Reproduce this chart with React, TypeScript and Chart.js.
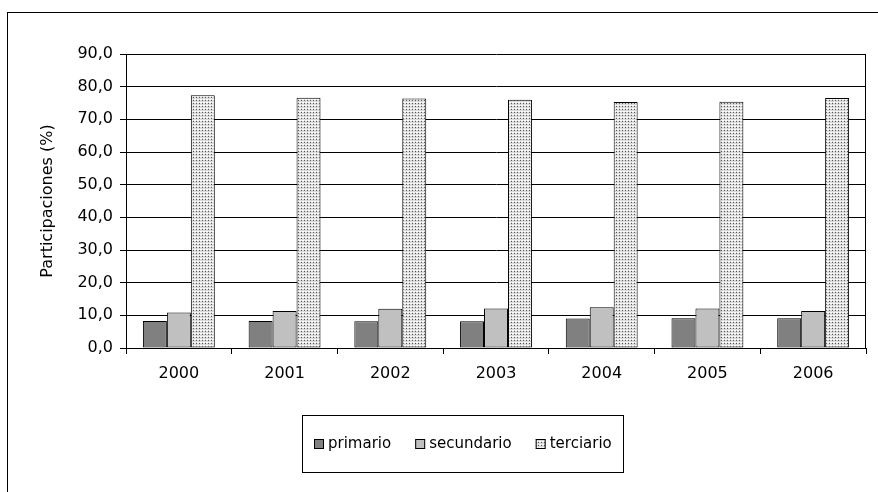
import React, { useEffect, useRef } from "react";
import { Chart, registerables } from "chart.js";

Chart.register(...registerables);

const years = ["2000", "2001", "2002", "2003", "2004", "2005", "2006"];
const primario = [8.3, 8.3, 8.2, 8.2, 9.0, 9.1, 9.1];
const secundario = [10.9, 11.3, 12.0, 12.1, 12.5, 12.1, 11.3];
const terciario = [77.4, 76.6, 76.4, 76.0, 75.3, 75.4, 76.5];
const seriesLabels = ["primario", "secundario", "terciario"];
const yTitle = "Participaciones (%)";

const FONT = "'DejaVu Sans', Verdana, sans-serif";

function makePattern(): CanvasPattern | string {
  const c = document.createElement("canvas");
  c.width = 3;
  c.height = 3;
  const g = c.getContext("2d");
  if (!g) return "#ccc";
  g.fillStyle = "#dadada";
  g.fillRect(0, 0, 3, 3);
  g.fillStyle = "#ffffff";
  g.fillRect(0, 0, 1, 1);
  g.fillRect(2, 0, 1, 1);
  g.fillStyle = "#5a5a5a";
  g.fillRect(1, 1, 1, 1);
  const p = g.createPattern(c, "repeat");
  return p || "#ccc";
}

export default function App() {
  const ref = useRef<HTMLCanvasElement | null>(null);

  useEffect(() => {
    if (!ref.current) return;
    const pattern = makePattern();
    const fills: any[] = ["#808080", "#c0c0c0", pattern];

    const framePlugin = {
      id: "frame",
      beforeDraw(chart: any) {
        const ctx = chart.ctx;
        ctx.save();
        ctx.fillStyle = "#fff";
        ctx.fillRect(0, 0, chart.width, chart.height);
        ctx.strokeStyle = "#000";
        ctx.lineWidth = 1;
        ctx.strokeRect(7.5, 12.5, 1000, 1000);
        ctx.restore();
      },
      afterDraw(chart: any) {
        const ctx = chart.ctx;
        const a = chart.chartArea;
        ctx.save();
        ctx.strokeStyle = "#000";
        ctx.lineWidth = 1;
        ctx.beginPath();
        ctx.moveTo(Math.round(a.right) - 0.5, a.top);
        ctx.lineTo(Math.round(a.right) - 0.5, a.bottom);
        ctx.stroke();

        // legend
        const boxL = 302.5, boxT = 415.5, boxW = 321, boxH = 57;
        ctx.strokeRect(boxL, boxT, boxW, boxH);
        ctx.font = `15px ${FONT}`;
        ctx.textBaseline = "middle";
        ctx.textAlign = "left";
        const marker = 10, gapText = 4, gapItem = 24;
        const datasets = chart.data.datasets;
        const widths = datasets.map((d: any) => ctx.measureText(d.label).width);
        let total = 0;
        widths.forEach((w: number, i: number) => {
          total += marker + gapText + w + (i < widths.length - 1 ? gapItem : 0);
        });
        let x = Math.round(boxL + boxW / 2 - total / 2);
        const cy = boxT + boxH / 2;
        datasets.forEach((d: any, i: number) => {
          ctx.fillStyle = d.backgroundColor;
          ctx.fillRect(x, Math.round(cy - marker / 2), marker, marker);
          ctx.strokeStyle = "#000";
          ctx.strokeRect(x + 0.5, Math.round(cy - marker / 2) + 0.5, marker - 1, marker - 1);
          ctx.fillStyle = "#000";
          ctx.fillText(d.label, x + marker + gapText, cy);
          x += marker + gapText + widths[i] + gapItem;
        });
        ctx.restore();
      },
    };

    const chart = new Chart(ref.current, {
      type: "bar",
      data: {
        labels: years,
        datasets: [primario, secundario, terciario].map((vals, i) => ({
          label: seriesLabels[i],
          data: vals,
          backgroundColor: fills[i],
          borderColor: "#000",
          borderWidth: 1,
          borderSkipped: false,
          categoryPercentage: 0.68,
          barPercentage: 1.0,
        })),
      },
      options: {
        responsive: false,
        animation: false,
        devicePixelRatio: 1,
        layout: { padding: { left: 0, right: 12, top: 54, bottom: 0 } },
        plugins: {
          legend: { display: false },
          tooltip: { enabled: false },
        },
        scales: {
          x: {
            offset: true,
            grid: {
              offset: true,
              drawOnChartArea: false,
              drawTicks: true,
              tickLength: 6,
              color: "#000",
            },
            border: { color: "#000", width: 1 },
            ticks: {
              color: "#000",
              font: { family: FONT, size: 16 },
              padding: 10,
            },
            afterFit: (s: any) => {
              s.height = 144;
            },
          },
          y: {
            min: 0,
            max: 90,
            ticks: {
              stepSize: 10,
              color: "#000",
              font: { family: FONT, size: 16 },
              padding: 7,
              callback: (v: any) => Number(v).toFixed(1).replace(".", ","),
            },
            grid: {
              color: "#000",
              tickLength: 6,
              lineWidth: 1,
            },
            border: { color: "#000", width: 1 },
            title: {
              display: true,
              text: yTitle,
              color: "#000",
              font: { family: FONT, size: 16 },
              padding: { top: 38, bottom: 0 },
            },
            afterFit: (s: any) => {
              s.width = 126;
            },
          },
        },
      },
      plugins: [framePlugin],
    });
    return () => chart.destroy();
  }, []);

  return (
    <div style={{ position: "absolute", left: 0, top: 0, width: 878, height: 492 }}>
      <canvas ref={ref} width={878} height={492} style={{ display: "block" }} />
    </div>
  );
}
